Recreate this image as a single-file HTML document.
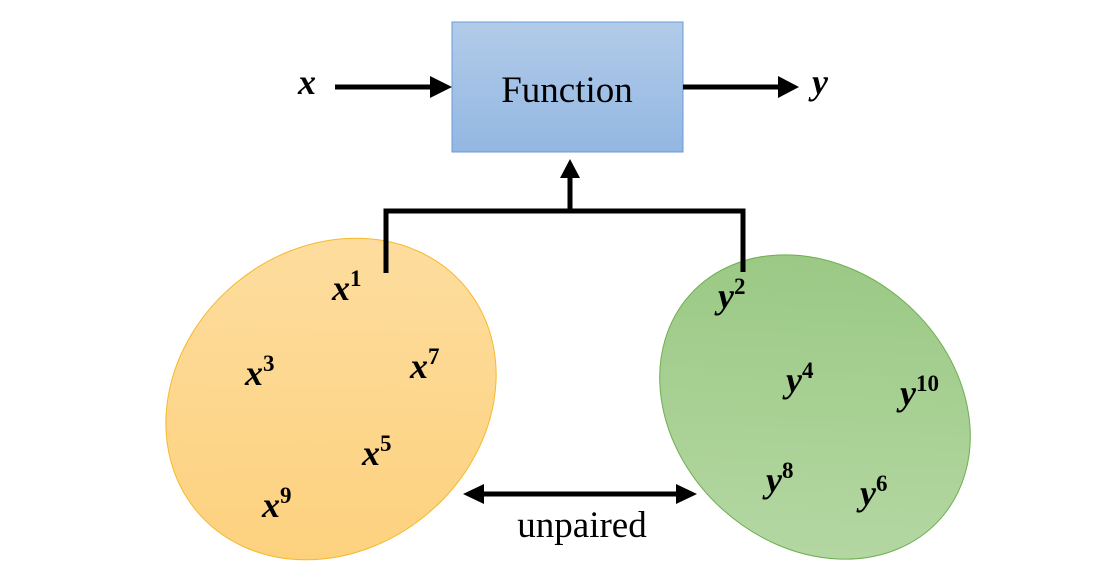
<!DOCTYPE html>
<html><head><meta charset="utf-8"><style>
html,body{margin:0;padding:0;background:#fff;overflow:hidden;width:1119px;height:583px}
svg{display:block}
.m{font-family:"Liberation Serif",serif;font-style:italic;font-weight:bold;font-size:36px;fill:#000}
.s{font-size:23px;font-style:normal}
</style></head><body>
<svg width="1119" height="583" viewBox="0 0 1119 583" xmlns="http://www.w3.org/2000/svg">
<defs>
<linearGradient id="bx" x1="0" y1="0" x2="0" y2="1"><stop offset="0" stop-color="#b2cbe9"/><stop offset="1" stop-color="#93b7e2"/></linearGradient>
<linearGradient id="og" x1="1" y1="0" x2="0" y2="1"><stop offset="0" stop-color="#fddfa4"/><stop offset="1" stop-color="#fdcf78"/></linearGradient>
<linearGradient id="gg" x1="0" y1="0" x2="1" y2="1"><stop offset="0" stop-color="#96c67f"/><stop offset="1" stop-color="#b9daa8"/></linearGradient>
</defs>
<ellipse cx="331" cy="399" rx="175" ry="150" transform="rotate(-40 331 399)" fill="url(#og)" stroke="#f7b92b" stroke-width="1"/>
<ellipse cx="815" cy="407" rx="168" ry="138" transform="rotate(42 815 407)" fill="url(#gg)" stroke="#6fae50" stroke-width="1"/>
<rect x="452" y="22" width="231" height="130" fill="url(#bx)" stroke="#6a9bd8" stroke-width="1"/>
<text x="567" y="102" text-anchor="middle" font-family="Liberation Serif,serif" font-size="37">Function</text>
<text x="298" y="94" class="m">x</text>
<text x="812" y="94" class="m">y</text>
<g stroke="#000" stroke-width="5" fill="none">
<line x1="335" y1="87" x2="432" y2="87"/>
<line x1="683" y1="87" x2="780" y2="87"/>
<line x1="570" y1="211" x2="570" y2="176"/>
<polyline points="386,273 386,211 743,211 743,272"/>
<line x1="482" y1="494" x2="678" y2="494"/>
</g>
<polygon points="430,76 452,87 430,98" fill="#000"/>
<polygon points="778,76 799,87 778,98" fill="#000"/>
<polygon points="560,178 570,159 580,178" fill="#000"/>
<polygon points="484,484 463,494 484,504" fill="#000"/>
<polygon points="676,484 697,494 676,504" fill="#000"/>
<text x="582" y="537" text-anchor="middle" font-family="Liberation Serif,serif" font-size="37">unpaired</text>
<text class="m" x="332" y="300">x<tspan class="s" dy="-14">1</tspan></text>
<text class="m" x="245" y="385">x<tspan class="s" dy="-14">3</tspan></text>
<text class="m" x="410" y="378">x<tspan class="s" dy="-14">7</tspan></text>
<text class="m" x="362" y="465">x<tspan class="s" dy="-14">5</tspan></text>
<text class="m" x="262" y="517">x<tspan class="s" dy="-14">9</tspan></text>
<text class="m" x="718" y="308">y<tspan class="s" dy="-14">2</tspan></text>
<text class="m" x="786" y="392">y<tspan class="s" dy="-14">4</tspan></text>
<text class="m" x="900" y="405">y<tspan class="s" dy="-14">10</tspan></text>
<text class="m" x="766" y="492">y<tspan class="s" dy="-14">8</tspan></text>
<text class="m" x="860" y="505">y<tspan class="s" dy="-14">6</tspan></text>
</svg>
</body></html>
